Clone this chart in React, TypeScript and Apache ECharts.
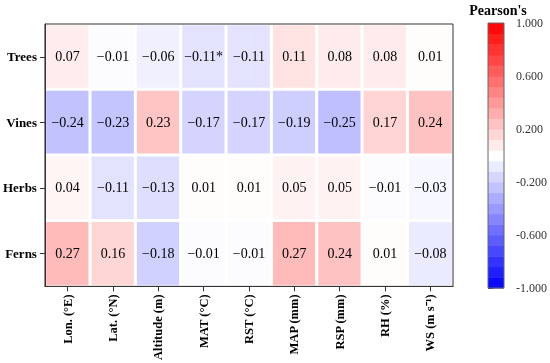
import React, { useEffect, useRef } from "react";
import * as echarts from "echarts";

const X_LABELS = ["Lon. (°E)", "Lat. (°N)", "Altitude (m)", "MAT (°C)", "RST (°C)", "MAP (mm)", "RSP (mm)", "RH (%)", "WS (m s⁻¹)"];
const Y_LABELS = ["Trees", "Vines", "Herbs", "Ferns"];
const TREES = [0.07, -0.01, -0.06, -0.11, -0.11, 0.11, 0.08, 0.08, 0.01];
const VINES = [-0.24, -0.23, 0.23, -0.17, -0.17, -0.19, -0.25, 0.17, 0.24];
const HERBS = [0.04, -0.11, -0.13, 0.01, 0.01, 0.05, 0.05, -0.01, -0.03];
const FERNS = [0.27, 0.16, -0.18, -0.01, -0.01, 0.27, 0.24, 0.01, -0.08];
const TREES_SIG = ["", "", "", "*", "", "", "", "", ""];
const VINES_SIG = ["", "", "", "", "", "", "", "", ""];
const HERBS_SIG = ["", "", "", "", "", "", "", "", ""];
const FERNS_SIG = ["", "", "", "", "", "", "", "", ""];
const COLORBAR_TICKS = [-1, -0.6, -0.2, 0.2, 0.6, 1];
const COLORBAR_STEPS = 25;

const FONT = "Liberation Serif";

function fmt(v: number, sig: string) {
  const s = Math.abs(v).toFixed(2);
  return (v < 0 ? "\u2212" + s : s) + sig;
}

function colorFor(v: number) {
  if (v >= 0) {
    const c = Math.round(255 * (1 - v));
    return `rgb(255,${c},${c})`;
  }
  const c = Math.round(255 * (1 + v));
  return `rgb(${c},${c},255)`;
}

export default function App() {
  const ref = useRef<HTMLDivElement>(null);
  useEffect(() => {
    const chart = echarts.init(ref.current!, null, { renderer: "svg" });
    const rows = [TREES, VINES, HERBS, FERNS];
    const sigs = [TREES_SIG, VINES_SIG, HERBS_SIG, FERNS_SIG];
    const data: any[] = [];
    rows.forEach((row, yi) =>
      row.forEach((v, xi) => data.push([xi, yi, v, fmt(v, sigs[yi][xi])]))
    );
    const bands: number[][] = [];
    for (let i = 0; i < COLORBAR_STEPS; i++) {
      const lo = -1 + (2 * i) / COLORBAR_STEPS;
      const hi = -1 + (2 * (i + 1)) / COLORBAR_STEPS;
      bands.push([lo, hi, (lo + hi) / 2]);
    }
    chart.setOption({
      animation: false,
      textStyle: { fontFamily: FONT },
      grid: [
        { left: 42, top: 24, width: 411, height: 264, show: true, z: 3, borderColor: "#333", borderWidth: 1, containLabel: false },
        { left: 488, top: 23, width: 20, height: 265, show: true, z: 3, borderColor: "#666", borderWidth: 1, containLabel: false },
      ],
      xAxis: [
        {
          type: "category",
          gridIndex: 0,
          data: X_LABELS,
          z: 4,
          axisLine: { lineStyle: { color: "#333", width: 1 } },
          axisTick: { show: true, alignWithLabel: true, length: 5, lineStyle: { color: "#333" } },
          axisLabel: { rotate: 90, fontFamily: FONT, fontWeight: "bold", fontSize: 12.5, color: "#000", margin: 8 },
          splitLine: { show: false },
        },
        { type: "value", gridIndex: 1, min: 0, max: 1, show: false },
      ],
      yAxis: [
        {
          type: "category",
          gridIndex: 0,
          data: Y_LABELS,
          inverse: true,
          z: 4,
          axisLine: { lineStyle: { color: "#333", width: 1 } },
          axisTick: { show: true, alignWithLabel: true, length: 5, lineStyle: { color: "#333" } },
          axisLabel: { fontFamily: FONT, fontWeight: "bold", fontSize: 13, color: "#000", margin: 8 },
        },
        {
          type: "value",
          gridIndex: 1,
          min: -1,
          max: 1,
          position: "right",
          axisLine: { show: false },
          axisTick: { show: true, length: 5, lineStyle: { color: "#555" }, customValues: COLORBAR_TICKS },
          axisLabel: { fontFamily: FONT, fontSize: 12, color: "#333", margin: 12, customValues: COLORBAR_TICKS, formatter: (v: number) => v.toFixed(3) },
          splitLine: { show: false },
        },
      ],
      visualMap: {
        type: "continuous",
        show: false,
        min: -1,
        max: 1,
        dimension: 2,
        seriesIndex: 0,
        inRange: { color: ["#0000ff", "#ffffff", "#ff0000"] },
      },
      graphic: [
        { type: "text", x: 498, y: 3, style: { text: "Pearson's", font: `bold 14px "${FONT}"`, fill: "#000", textAlign: "center" } },
      ],
      series: [
        {
          type: "heatmap",
          xAxisIndex: 0,
          yAxisIndex: 0,
          z: 1,
          data,
          itemStyle: { borderColor: "#fff", borderWidth: 3 },
          label: {
            show: true,
            fontFamily: FONT,
            fontSize: 14,
            color: "#000",
            formatter: (p: any) => p.data[3],
          },
        },
        {
          type: "custom",
          xAxisIndex: 1,
          yAxisIndex: 1,
          z: 1,
          data: bands,
          renderItem: (params: any, api: any) => {
            const p0 = api.coord([0, api.value(1)]);
            const p1 = api.coord([1, api.value(0)]);
            return {
              type: "rect",
              shape: { x: p0[0], y: p0[1], width: p1[0] - p0[0], height: p1[1] - p0[1] + 0.5 },
              style: { fill: colorFor(api.value(2)) },
            };
          },
        },
      ],
    });
    return () => chart.dispose();
  }, []);
  return <div ref={ref} style={{ position: "fixed", left: 0, top: 0, width: 550, height: 363 }} />;
}
